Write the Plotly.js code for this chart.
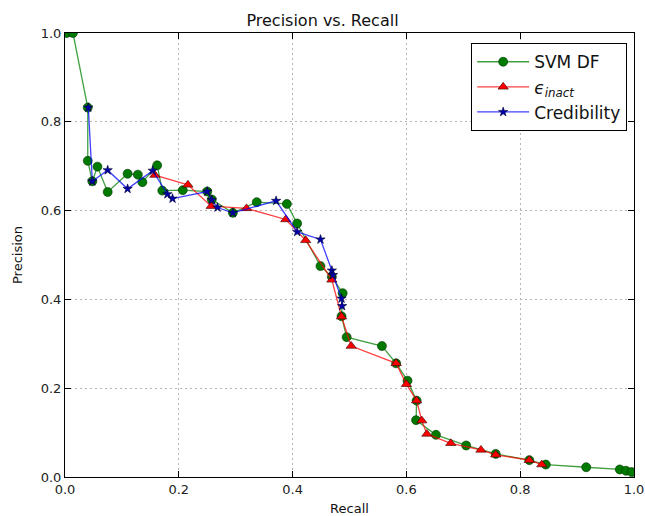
<!DOCTYPE html>
<html>
<head>
<meta charset="utf-8">
<script src="https://cdn.plot.ly/plotly-3.0.1.min.js"></script>
<style>html,body{margin:0;padding:0;background:#fff;}#chart{width:645px;height:516px;}</style>
</head>
<body>
<div id="chart"></div>
<script>
// SVM DF
const svmRecall = [0.003, 0.014, 0.040, 0.040, 0.048, 0.057, 0.075, 0.110, 0.128, 0.136, 0.162, 0.171, 0.207, 0.250, 0.258, 0.295, 0.337, 0.390, 0.408, 0.449, 0.469, 0.488, 0.486, 0.495, 0.557, 0.582, 0.602, 0.618, 0.617, 0.652, 0.705, 0.757, 0.816, 0.845, 0.916, 0.975, 0.986, 0.996];
const svmPrecision = [1.000, 1.000, 0.832, 0.712, 0.666, 0.699, 0.642, 0.683, 0.681, 0.664, 0.702, 0.645, 0.646, 0.643, 0.625, 0.595, 0.619, 0.615, 0.571, 0.475, 0.451, 0.414, 0.362, 0.315, 0.295, 0.256, 0.217, 0.172, 0.128, 0.095, 0.071, 0.052, 0.038, 0.028, 0.022, 0.017, 0.014, 0.011];
// epsilon_inact
const epsRecall = [0.158, 0.216, 0.257, 0.319, 0.388, 0.423, 0.469, 0.486, 0.503, 0.582, 0.600, 0.618, 0.627, 0.636, 0.678, 0.731, 0.757, 0.816, 0.838];
const epsPrecision = [0.680, 0.658, 0.610, 0.605, 0.580, 0.533, 0.444, 0.361, 0.295, 0.256, 0.209, 0.172, 0.127, 0.097, 0.076, 0.061, 0.050, 0.038, 0.028];
// Credibility
const credRecall = [0.041, 0.048, 0.075, 0.110, 0.154, 0.180, 0.189, 0.250, 0.258, 0.268, 0.295, 0.371, 0.408, 0.449, 0.469, 0.471, 0.486, 0.487];
const credPrecision = [0.832, 0.666, 0.691, 0.649, 0.690, 0.637, 0.627, 0.643, 0.624, 0.607, 0.595, 0.622, 0.552, 0.535, 0.465, 0.455, 0.402, 0.385];

const seriesNames = ['SVM DF', '<i>ϵ</i><sub><i>inact</i></sub>', 'Credibility'];

const traces = [
  {x: svmRecall, y: svmPrecision, name: seriesNames[0], mode: 'lines+markers',
   line: {color: 'rgba(0,128,0,0.75)', width: 1.3},
   marker: {symbol: 'circle', size: 9, color: '#007a00', line: {color: '#003300', width: 0.6}}},
  {x: epsRecall, y: epsPrecision, name: seriesNames[1], mode: 'lines+markers',
   line: {color: 'rgba(255,0,0,0.75)', width: 1.3},
   marker: {symbol: 'triangle-up', size: 9, color: '#ff0000', line: {color: '#330000', width: 0.6}}},
  {x: credRecall, y: credPrecision, name: seriesNames[2], mode: 'lines+markers',
   line: {color: 'rgba(0,0,255,0.75)', width: 1.3},
   marker: {symbol: 'star', size: 7, color: '#0000aa', line: {color: '#000033', width: 0.6}}}
];

const axisCommon = {
  range: [0, 1], dtick: 0.2, tickformat: '.1f',
  showline: true, linecolor: '#000', linewidth: 1, mirror: 'ticks',
  ticks: 'inside', ticklen: 6, tickcolor: '#000',
  showgrid: true, gridcolor: '#b5b5b5', griddash: '2px,3px', gridwidth: 1,
  zeroline: false,
  tickfont: {family: 'DejaVu Sans', size: 13, color: '#222'}
};

const layout = {
  width: 645, height: 516,
  margin: {l: 65, r: 11, t: 33, b: 39},
  paper_bgcolor: '#fff', plot_bgcolor: '#fff',
  title: {text: 'Precision vs. Recall', font: {family: 'DejaVu Sans', size: 16, color: '#111'},
          x: 0.5, xanchor: 'center', y: 0.972, yanchor: 'top'},
  xaxis: Object.assign({}, axisCommon, {title: {text: 'Recall', font: {family: 'DejaVu Sans', size: 13, color: '#111'}, standoff: 10}}),
  yaxis: Object.assign({}, axisCommon, {title: {text: 'Precision', font: {family: 'DejaVu Sans', size: 13, color: '#111'}, standoff: 15}}),
  showlegend: true,
  legend: {x: 0.988, xanchor: 'right', y: 0.977, yanchor: 'top',
           bgcolor: '#fff', bordercolor: '#000', borderwidth: 1,
           font: {family: 'DejaVu Sans', size: 17, color: '#111'},
           itemwidth: 52, tracegroupgap: 4}
};

Plotly.newPlot('chart', traces, layout, {staticPlot: true, displayModeBar: false});
</script>
</body>
</html>
